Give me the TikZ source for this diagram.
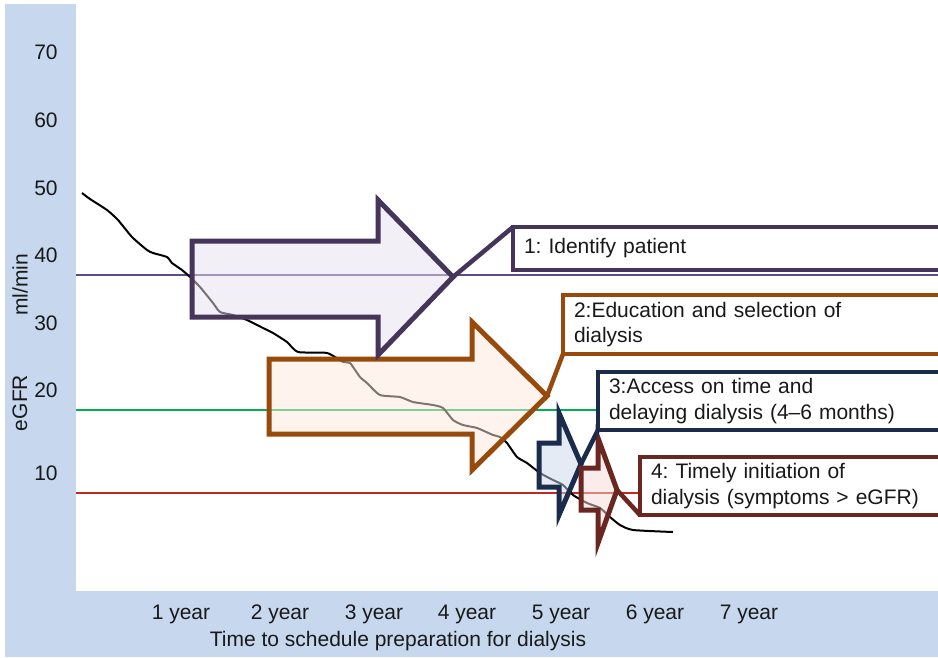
\documentclass[tikz,border=0pt]{standalone}
\usepackage{fontspec}
\setmainfont{Liberation Sans}
\frenchspacing
\definecolor{bgblue}{HTML}{C6D7EE}
\definecolor{cA}{HTML}{46355A}
\definecolor{lineA}{HTML}{5E4B87}
\definecolor{fillA}{RGB}{231,227,239}
\definecolor{cB}{HTML}{974A0C}
\definecolor{fillB}{RGB}{255,235,221}
\definecolor{cC}{HTML}{1B2B4B}
\definecolor{fillC}{RGB}{205,217,237}
\definecolor{cD}{HTML}{6A2621}
\definecolor{fillD}{RGB}{247,219,215}
\definecolor{lineG}{HTML}{00B050}
\definecolor{lineR}{HTML}{C0291B}
\begin{document}
\begin{tikzpicture}[x=1pt,y=-1pt,
  tick/.style={font=\fontsize{21}{25}\selectfont, inner sep=0pt, text=black!90},
  refline/.style={line width=2.2pt},
  egfrcurve/.style={black, line width=2pt, line join=round},
  bigarrow/.style={line width=5pt, line join=miter, fill opacity=0.5},
  conn/.style={line width=4.5pt},
  infobox/.style={draw, fill=white, line width=4.5pt, outer sep=0pt, anchor=north west,
    inner xsep=11pt, inner ysep=0pt, text width=440pt, align=left, text=black!90,
    font=\fontsize{21}{25.5}\selectfont}]
\useasboundingbox (0,0) rectangle (938,657);
\clip (0,0) rectangle (938,657);
\fill[white] (0,0) rectangle (938,657);
\fill[bgblue] (5,4) rectangle (76,657);
\fill[bgblue] (5,591) rectangle (938,657);

% axis labels
\node[tick] (y70) at (46,52) {70};
\node[tick] (y60) at (46,120) {60};
\node[tick] (y50) at (46,188) {50};
\node[tick] (y40) at (46,255) {40};
\node[tick] (y30) at (46,323) {30};
\node[tick] (y20) at (46,390) {20};
\node[tick] (y10) at (46,473) {10};
\node[tick, rotate=90] (unit) at (20,285) {ml/min};
\node[tick, rotate=90] (egfr) at (20,403) {eGFR};

\node[tick] (x1) at (181,614) {1 year};
\node[tick] (x2) at (280,614) {2 year};
\node[tick] (x3) at (374,614) {3 year};
\node[tick] (x4) at (467,614) {4 year};
\node[tick] (x5) at (561,614) {5 year};
\node[tick] (x6) at (655,614) {6 year};
\node[tick] (x7) at (749,614) {7 year};
\node[tick] (xtitle) at (398,641) {Time to schedule preparation for dialysis};

% reference lines
\draw[refline, lineA] (76,275) -- (938,275);
\draw[refline, lineG] (76,410) -- (938,410);
\draw[refline, lineR] (76,493) -- (938,493);

% eGFR decline curve
\draw[egfrcurve] plot[smooth, tension=0.35] coordinates {
 (82,193) (90,199) (107,210) (118,220) (132,237) (147,250) (153,253) (167,257)
 (172,263) (182,270) (190,277) (200,287) (213,303) (220,312) (233,315) (247,320)
 (263,328) (273,333) (287,342) (298,352) (327,353) (343,362) (350,363) (360,377)
 (367,383) (380,395) (400,397) (413,402) (433,405) (443,408) (453,420) (463,425)
 (477,428) (493,435) (500,437) (507,443) (517,457) (527,463) (540,473) (553,480)
 (563,485) (573,495) (587,503) (600,508) (610,517) (620,525) (633,530) (673,532)};

% arrows
\coordinate (t1) at (453,277);
\coordinate (t2) at (547,396);
\coordinate (t3) at (581,464);
\coordinate (t4) at (617,490);
\draw[bigarrow, draw=cB, fill=fillB] (269,359) -- (472,359) -- (472,322) -- (t2) -- (472,470) -- (472,434) -- (269,434) -- cycle;
\draw[bigarrow, draw=cA, fill=fillA] (192,241) -- (378,241) -- (378,200) -- (t1) -- (378,355) -- (378,317) -- (192,317) -- cycle;
\draw[bigarrow, draw=cC, fill=fillC] (539,443) -- (559,443) -- (559,413) -- (t3) -- (559,515) -- (559,487) -- (539,487) -- cycle;
\draw[bigarrow, draw=cD, fill=fillD] (581,468) -- (598,468) -- (598,438) -- (t4) -- (598,543) -- (598,510) -- (581,510) -- cycle;

% boxes
\node[infobox, draw=cA, minimum height=43pt] (b1) at (513,227) {1: Identify patient};
\node[infobox, draw=cB, minimum height=59pt] (b2) at (563,295) {2:Education and selection of\\dialysis};
\node[infobox, draw=cC, minimum height=58pt] (b3) at (598,372) {3:Access on time and\\delaying dialysis (4--6 months)};
\node[infobox, draw=cD, minimum height=58pt] (b4) at (640,457) {4: Timely initiation of\\dialysis (symptoms > eGFR)};

% connectors
\draw[conn, cA] (t1) -- (b1.north west);
\draw[conn, cB] (t2) -- (b2.south west);
\draw[conn, cC] (t3) -- (b3.south west);
\draw[conn, cD] (t4) -- (b4.south west);
\end{tikzpicture}
\end{document}
